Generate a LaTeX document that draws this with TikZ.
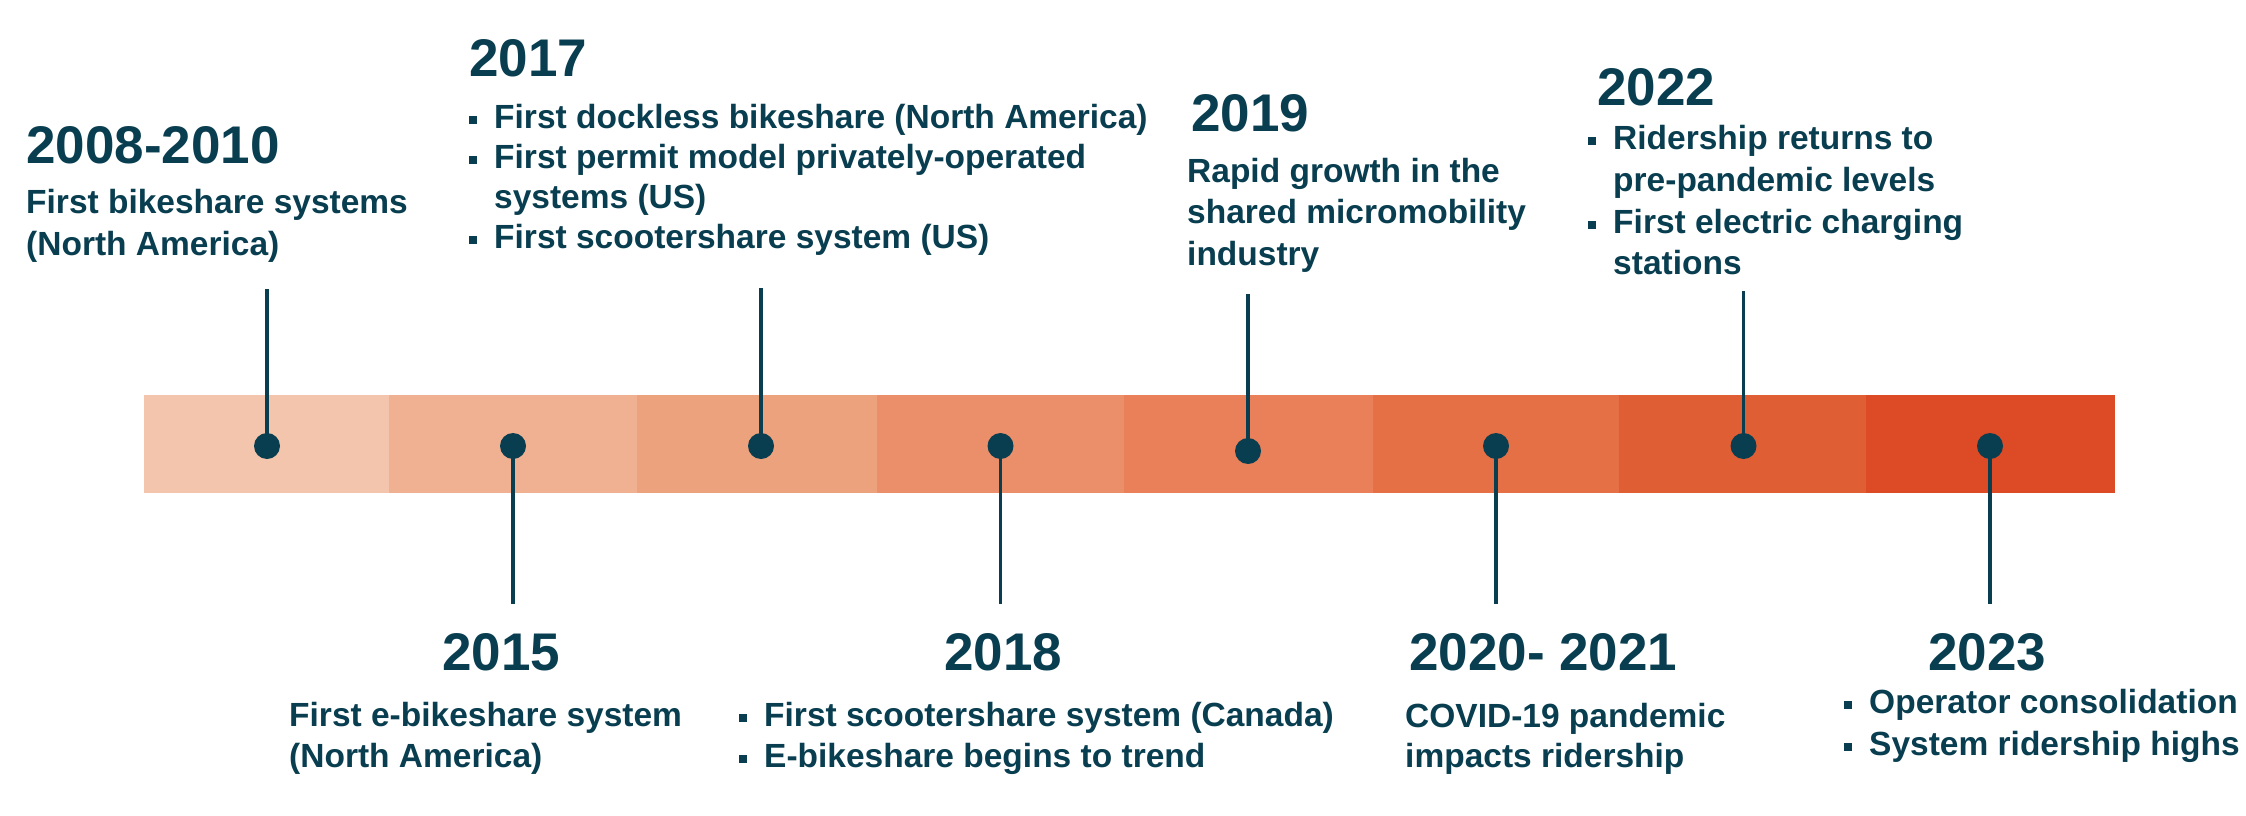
\documentclass[tikz,border=0pt]{standalone}
\usepackage{fontspec}
\setmainfont{Liberation Sans}
\definecolor{ink}{RGB}{9,62,80}
\definecolor{s1}{RGB}{243,197,172}
\definecolor{s2}{RGB}{240,177,146}
\definecolor{s3}{RGB}{237,162,126}
\definecolor{s4}{RGB}{235,143,106}
\definecolor{s5}{RGB}{233,128,90}
\definecolor{s6}{RGB}{229,112,69}
\definecolor{s7}{RGB}{224,94,52}
\definecolor{s8}{RGB}{221,74,38}
\newcommand\bul{\makebox[25pt][l]{\rule[4pt]{8pt}{8pt}}}
\newcommand\ind{\hspace*{25pt}}
\tikzset{
  yr/.style={anchor=base west, inner sep=0pt, text=ink, font=\fontsize{53}{60}\selectfont\bfseries},
  ln/.style={anchor=base west, inner sep=0pt, text=ink, font=\fontsize{33.5}{41}\selectfont\bfseries},
  dot/.style={circle, fill=ink, minimum size=26pt, inner sep=0pt},
  conn/.style={draw=ink, line width=3.5pt},
  seg/.style={inner sep=0pt}
}
\begin{document}
\begin{tikzpicture}[x=1pt,y=-1pt]
\useasboundingbox[fill=white] (0,0) rectangle (2246,816);
% bar segments
\fill[s1] (143.8,395) rectangle (389.3,493);
\fill[s2] (388.8,395) rectangle (637,493);
\fill[s3] (636.5,395) rectangle (877.8,493);
\fill[s4] (877.3,395) rectangle (1124.2,493);
\fill[s5] (1123.7,395) rectangle (1373.3,493);
\fill[s6] (1372.8,395) rectangle (1619.6,493);
\fill[s7] (1619.1,395) rectangle (1866,493);
\fill[s8] (1865.5,395) rectangle (2114.5,493);
% connector ends
\coordinate (c1) at (267,289);
\coordinate (c2) at (513,604);
\coordinate (c3) at (761,288);
\coordinate (c4) at (1000.5,604);
\coordinate (c5) at (1248,294);
\coordinate (c6) at (1496,604);
\coordinate (c7) at (1743.5,291);
\coordinate (c8) at (1990,604);
% dots
\node[dot] (d1) at (267,446) {};
\node[dot] (d2) at (513,446) {};
\node[dot] (d3) at (761,446) {};
\node[dot] (d4) at (1000.5,446) {};
\node[dot] (d5) at (1248,451) {};
\node[dot] (d6) at (1496,446) {};
\node[dot] (d7) at (1743.5,446) {};
\node[dot] (d8) at (1990,446) {};
\foreach \i in {1,...,8} { \draw[conn] (d\i.center) -- (c\i); }
% 2008-2010
\node[yr] (y1) at (26,163) {2008-2010};
\node[ln] (t1a) at (26,213) {First bikeshare systems};
\node[ln] (t1b) at (26,255) {(North America)};
% 2017
\node[yr] (y3) at (469,77) {2017};
\node[ln] (t3a) at (469,128) {\bul First dockless bikeshare (North America)};
\node[ln] (t3b) at (469,168) {\bul First permit model privately-operated};
\node[ln] (t3c) at (469,208) {\ind systems (US)};
\node[ln] (t3d) at (469,248) {\bul First scootershare system (US)};
% 2019
\node[yr] (y5) at (1191,131) {2019};
\node[ln] (t5a) at (1187,182) {Rapid growth in the};
\node[ln] (t5b) at (1187,223) {shared micromobility};
\node[ln] (t5c) at (1187,265) {industry};
% 2022
\node[yr] (y7) at (1597,105) {2022};
\node[ln] (t7a) at (1588,149) {\bul Ridership returns to};
\node[ln] (t7b) at (1588,191) {\ind pre-pandemic levels};
\node[ln] (t7c) at (1588,233) {\bul First electric charging};
\node[ln] (t7d) at (1588,274) {\ind stations};
% 2015
\node[yr] (y2) at (442,670) {2015};
\node[ln] (t2a) at (289,726) {First e-bikeshare system};
\node[ln] (t2b) at (289,767) {(North America)};
% 2018
\node[yr] (y4) at (944,670) {2018};
\node[ln] (t4a) at (739,726) {\bul First scootershare system (Canada)};
\node[ln] (t4b) at (739,767) {\bul E-bikeshare begins to trend};
% 2020-2021
\node[yr] (y6) at (1409,670) {2020- 2021};
\node[ln] (t6a) at (1405,727) {COVID-19 pandemic};
\node[ln] (t6b) at (1405,767) {impacts ridership};
% 2023
\node[yr] (y8) at (1928,670) {2023};
\node[ln] (t8a) at (1844,713) {\bul Operator consolidation};
\node[ln] (t8b) at (1844,755) {\bul System ridership highs};
\end{tikzpicture}
\end{document}
